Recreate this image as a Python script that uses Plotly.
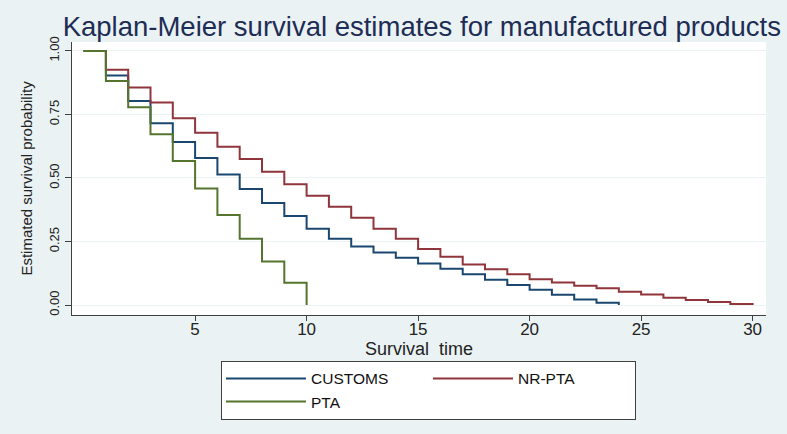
import plotly.graph_objects as go

# ---- data ----
time_customs = list(range(0, 25))
surv_customs = [1.0, 0.903, 0.803, 0.715, 0.642, 0.579, 0.514, 0.457, 0.402, 0.350,
                0.300, 0.261, 0.230, 0.207, 0.186, 0.164, 0.143, 0.121, 0.100, 0.079,
                0.060, 0.041, 0.022, 0.009, 0.0]

time_nrpta = list(range(0, 31))
surv_nrpta = [1.0, 0.926, 0.856, 0.797, 0.735, 0.678, 0.623, 0.575, 0.525, 0.475,
              0.430, 0.387, 0.344, 0.300, 0.261, 0.221, 0.190, 0.160, 0.141, 0.121,
              0.102, 0.089, 0.076, 0.066, 0.052, 0.042, 0.029, 0.020, 0.012, 0.004, 0.0]

time_pta = list(range(0, 11))
surv_pta = [1.0, 0.882, 0.778, 0.672, 0.567, 0.459, 0.354, 0.261, 0.171, 0.088, 0.0]

x_ticks = [5, 10, 15, 20, 25, 30]
y_ticks = [0, 0.25, 0.5, 0.75, 1.0]
y_tick_labels = ["0.00", "0.25", "0.50", "0.75", "1.00"]

BG = "#eaf2f3"
AXIS = "#404040"

fig = go.Figure()
fig.add_trace(go.Scatter(x=time_customs, y=surv_customs, mode="lines", name="CUSTOMS",
                         legendgroup="col1",
                         line=dict(color="#1a476f", width=2, shape="hv")))
fig.add_trace(go.Scatter(x=time_nrpta, y=surv_nrpta, mode="lines", name="NR-PTA",
                         legendgroup="col2",
                         line=dict(color="#90353b", width=2, shape="hv")))
fig.add_trace(go.Scatter(x=time_pta, y=surv_pta, mode="lines", name="PTA",
                         legendgroup="col1",
                         line=dict(color="#55752f", width=2, shape="hv")))

fig.update_layout(
    width=787, height=434,
    margin=dict(l=72, r=21, t=42, b=119, autoexpand=False),
    paper_bgcolor=BG, plot_bgcolor="white",
    font=dict(family="Liberation Sans, Arial, sans-serif", color="#222222"),
    title=dict(text="Kaplan-Meier survival estimates for manufactured products",
               font=dict(size=27.5, color="#1e2d55"),
               x=0.536, xref="container", xanchor="center",
               y=0.94, yref="container", yanchor="middle"),
    showlegend=True,
    legend=dict(orientation="h", x=0.2147, xanchor="left", y=-0.168, yanchor="top",
                bgcolor="white", bordercolor=AXIS, borderwidth=1,
                font=dict(size=15.5, color="#111111"),
                itemwidth=80, entrywidth=112, traceorder="grouped", tracegroupgap=0),
)

fig.update_xaxes(range=[-0.52, 30.6], tickvals=x_ticks, showgrid=False, zeroline=False,
                 automargin=False,
                 showline=True, linecolor=AXIS, linewidth=1,
                 ticks="outside", ticklen=5, tickcolor=AXIS,
                 tickfont=dict(size=17), ticklabelstandoff=-6,
                 title=dict(text="Survival\u00a0 time", font=dict(size=18), standoff=0))
fig.update_yaxes(range=[-0.039, 1.035], tickvals=y_ticks, ticktext=y_tick_labels,
                 automargin=False,
                 tickangle=-90, showgrid=True, gridcolor=BG, gridwidth=1, zeroline=False,
                 showline=True, linecolor=AXIS, linewidth=1,
                 ticks="outside", ticklen=6, tickcolor=AXIS,
                 tickfont=dict(size=13), ticklabelstandoff=1,
                 title=dict(text="Estimated survival probability", font=dict(size=15), standoff=10))

fig.write_html("out.html", config={"displayModeBar": False},
               post_script="document.body.style.margin='0';")
